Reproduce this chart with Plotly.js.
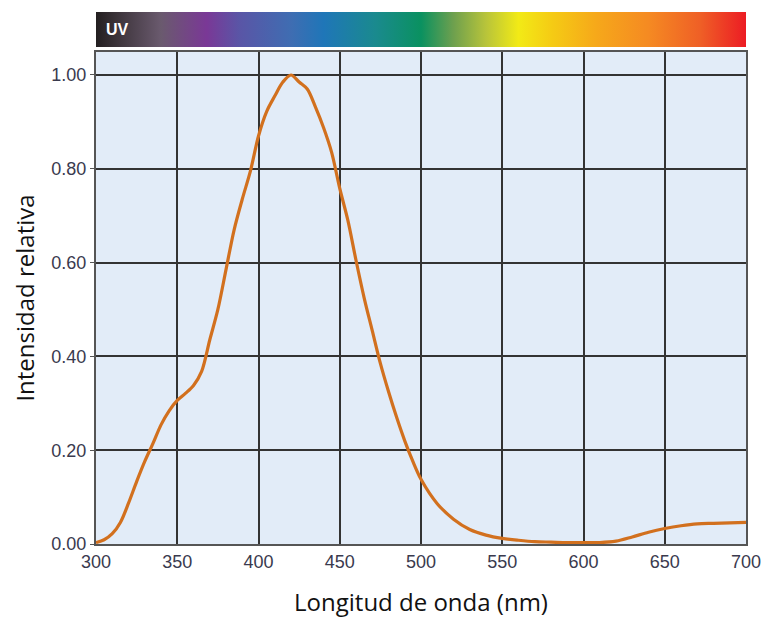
<!DOCTYPE html>
<html>
<head>
<meta charset="utf-8">
<script src="https://cdn.plot.ly/plotly-3.0.1.min.js"></script>
<style>html,body{margin:0;padding:0;background:#fff;}#chart{width:762px;height:621px;}</style>
</head>
<body>
<div id="chart"></div>
<script>
const wavelength = [300,305,310,315,320,325,330,335,340,345,350,355,360,365,370,375,380,385,390,395,400,405,410,415,420,425,430,435,440,445,450,455,460,465,470,475,480,485,490,495,500,510,520,530,540,550,560,570,580,590,600,610,620,630,640,650,660,670,680,690,700];
const intensity = [0.003,0.009,0.022,0.046,0.087,0.133,0.176,0.214,0.254,0.284,0.306,0.321,0.338,0.368,0.435,0.5,0.585,0.67,0.735,0.795,0.87,0.922,0.955,0.985,1.0,0.985,0.97,0.932,0.888,0.835,0.758,0.69,0.605,0.525,0.455,0.385,0.325,0.27,0.22,0.176,0.138,0.086,0.053,0.031,0.019,0.012,0.008,0.005,0.004,0.003,0.003,0.003,0.006,0.015,0.025,0.033,0.039,0.043,0.044,0.045,0.046];

const xTicks = [300,350,400,450,500,550,600,650,700];
const yTicks = [0,0.2,0.4,0.6,0.8,1.0];
const yTickLabels = ["0.00","0.20","0.40","0.60","0.80","1.00"];

const spectrumPos = [0,0.03,0.1,0.17,0.22,0.3,0.35,0.43,0.5,0.55,0.6,0.65,0.7,0.77,0.85,0.93,1];
const spectrumColors = ["#231f20","#3a3238","#6a5a6e","#7a3896","#5a55a6","#3f6db2","#1f76b8","#1a8a8e","#0a9160","#6ea04e","#b8c43a","#f2ea16","#f5cc14","#f6a81a","#f58a22","#ef5f26","#ec1c24"];
const spectrumLabel = "UV";

const colorscale = spectrumPos.map((p,i)=>[p, spectrumColors[i]]);

const traces = [
  {
    x: [300,700,700,300,300], y: [0,0,1,1,0],
    type: 'scatter', mode: 'lines', fill: 'toself',
    fillgradient: {type: 'horizontal', colorscale: colorscale},
    line: {width: 0, color: 'rgba(0,0,0,0)'},
    xaxis: 'x', yaxis: 'y2', hoverinfo: 'skip', showlegend: false
  },
  {
    x: wavelength, y: intensity,
    type: 'scatter', mode: 'lines',
    line: {color: '#d2701e', width: 3.2, shape: 'spline', smoothing: 0.9},
    xaxis: 'x', yaxis: 'y', showlegend: false
  }
];

const tickFont = {family: 'Arial, Liberation Sans, sans-serif', size: 18, color: '#3a3a4e'};
const titleFont = {family: 'Open Sans, sans-serif', size: 24, color: '#111'};

const layout = {
  width: 762, height: 621,
  margin: {l: 96, r: 16, t: 12, b: 77},
  paper_bgcolor: '#ffffff',
  plot_bgcolor: '#ffffff',
  showlegend: false,
  shapes: [{type:'rect', xref:'x', yref:'paper', x0:300, x1:700, y0:0, y1:492/532, fillcolor:'#e2ecf8', line:{width:0}, layer:'below'}],
  xaxis: {
    range: [300, 700], tickvals: xTicks, ticktext: xTicks.map(String),
    showgrid: true, gridcolor: '#333333', gridwidth: 2,
    showline: true, linecolor: '#555555', linewidth: 2, mirror: true,
    ticks: '', tickfont: tickFont, zeroline: false, anchor: 'y',
    title: {text: 'Longitud de onda (nm)', font: titleFont, standoff: 24}
  },
  yaxis: {
    domain: [0, 492/532], range: [0, 1.049],
    tickvals: yTicks, ticktext: yTickLabels,
    showgrid: true, gridcolor: '#333333', gridwidth: 2,
    showline: true, linecolor: '#555555', linewidth: 2, mirror: true,
    ticks: 'outside', ticklen: 4, tickcolor: '#555555', tickwidth: 1,
    tickfont: tickFont, zeroline: false, anchor: 'x',
    title: {text: 'Intensidad relativa', font: titleFont, standoff: 10}
  },
  yaxis2: {
    domain: [497/532, 1], range: [0, 1], anchor: 'x',
    showgrid: false, showline: false, showticklabels: false, zeroline: false, ticks: '', fixedrange: true
  },
  annotations: [{
    text: '<b>' + spectrumLabel + '</b>', xref: 'x', yref: 'y2', x: 305, y: 0.5,
    xanchor: 'left', yanchor: 'middle', showarrow: false,
    font: {family: 'Arial, Liberation Sans, sans-serif', size: 16, color: '#ffffff'}
  }]
};

Plotly.newPlot('chart', traces, layout, {displayModeBar: false, staticPlot: true});
</script>
</body>
</html>
